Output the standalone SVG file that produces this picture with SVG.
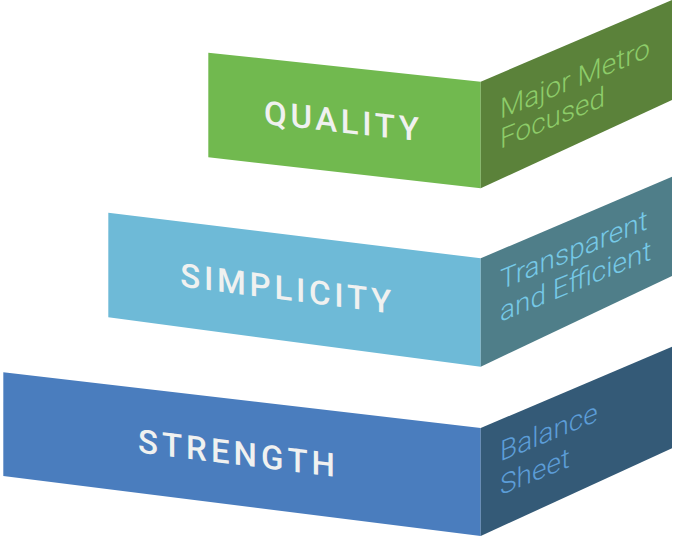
<svg xmlns="http://www.w3.org/2000/svg" width="677" height="537" viewBox="0 0 677 537">
  <style>
    .front-label { font-family: Roboto, "Liberation Sans", sans-serif; font-weight: 500; font-size: 33px; fill: #F0F1F0; text-anchor: middle; }
    .side-label { font-family: Roboto, "Liberation Sans", sans-serif; font-weight: 300; font-size: 28px; }
    #quality .front { fill: #71B94F; }
    #quality .side { fill: #5B823A; }
    #quality .side-label { fill: #8DCC69; }
    #simplicity .front { fill: #6EBAD7; }
    #simplicity .side { fill: #4F7E89; }
    #simplicity .side-label { fill: #76C9E7; }
    #strength .front { fill: #4A7DBE; }
    #strength .side { fill: #345A77; }
    #strength .side-label { fill: #5C9DD7; }
  </style>

  <!-- Top tier -->
  <g id="quality">
    <polygon class="front" points="208.3,52.7 480.7,81.7 480.7,188.3 208.3,157.3"/>
    <polygon class="side" points="480.7,81.7 672,0 672,100 480.7,188.3"/>
    <text class="front-label" transform="translate(341.5,132.5) skewY(6.3)" textLength="155" lengthAdjust="spacing">QUALITY</text>
    <text class="side-label" transform="translate(500,119) skewY(-22.5)">
      <tspan x="0" y="0">Major Metro</tspan>
      <tspan x="0" dy="30">Focused</tspan>
    </text>
  </g>

  <!-- Middle tier -->
  <g id="simplicity">
    <polygon class="front" points="108.3,212.7 480.7,258.3 480.7,366.7 108.3,317.3"/>
    <polygon class="side" points="480.7,258.3 672,176.7 672,276 480.7,366.7"/>
    <text class="front-label" transform="translate(285.7,300) skewY(7.3)" textLength="211" lengthAdjust="spacing">SIMPLICITY</text>
    <text class="side-label" transform="translate(500,290) skewY(-22.5)">
      <tspan x="0" y="0">Transparent</tspan>
      <tspan x="0" dy="32">and Efficient</tspan>
    </text>
  </g>

  <!-- Bottom tier -->
  <g id="strength">
    <polygon class="front" points="3.3,372.3 480.7,428 480.7,536 3.3,476"/>
    <polygon class="side" points="480.7,428 672,346.7 672,448.3 480.7,536"/>
    <text class="front-label" transform="translate(236.5,464.7) skewY(7)" textLength="197" lengthAdjust="spacing">STRENGTH</text>
    <text class="side-label" transform="translate(500,461.5) skewY(-22.5)">
      <tspan x="0" y="0">Balance</tspan>
      <tspan x="0" dy="34">Sheet</tspan>
    </text>
  </g>
</svg>
